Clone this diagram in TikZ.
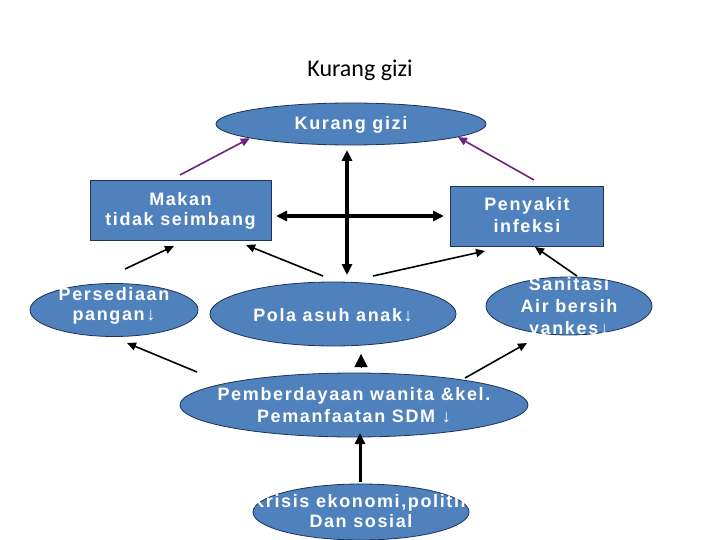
\documentclass[tikz,border=0pt]{standalone}
\usepackage{fontspec}
\newfontfamily\titlefont{Carlito}
\newfontfamily\nodefont{Liberation Sans}[LetterSpace=9]
\usetikzlibrary{arrows.meta,shapes.geometric}
\definecolor{nodeblue}{RGB}{79,129,189}
\definecolor{nodeedge}{RGB}{30,50,90}
\definecolor{arrowpurple}{RGB}{112,32,128}
\begin{document}
\begin{tikzpicture}[x=1pt,y=-1pt,
  ovalshape/.style={ellipse, draw=nodeedge, line width=0.8pt, fill=nodeblue, inner sep=0pt},
  boxshape/.style={rectangle, draw=nodeedge, line width=0.8pt, fill=nodeblue, inner sep=0pt},
  nodetext/.style={text=white, align=center, inner sep=0pt,
    font=\nodefont\bfseries\fontsize{18}{#1}\selectfont},
  nodetext/.default=22.5,
  thinarrow/.style={-{Triangle[length=9pt,width=8pt]}, line width=1.6pt},
  purplearrow/.style={-{Triangle[length=9pt,width=8pt]}, line width=1.6pt, draw=arrowpurple},
  crossarrow/.style={{Triangle[length=11pt,width=10pt]}-{Triangle[length=11pt,width=10pt]}, line width=3.5pt},
  thickarrow/.style={-{Triangle[length=11pt,width=10pt]}, line width=3pt}
]
\useasboundingbox (0,0) rectangle (720,540);
\fill[white] (0,0) rectangle (720,540);

% title
\node[font=\titlefont\fontsize{24}{28}\selectfont] (title) at (360,70) {Kurang gizi};

% shapes
\node[ovalshape, minimum width=270pt, minimum height=42pt] (kg) at (351,124) {};
\node[boxshape, minimum width=181pt, minimum height=60pt] (mak) at (180.5,210) {};
\node[boxshape, minimum width=153pt, minimum height=60pt] (pen) at (526.5,216) {};
\node[ovalshape, minimum width=168pt, minimum height=53pt] (pers) at (114,310) {};
\node[ovalshape, minimum width=246pt, minimum height=64pt] (pola) at (333,314) {};
\node[ovalshape, minimum width=166pt, minimum height=58pt] (san) at (569,306) {};
\node[ovalshape, minimum width=348pt, minimum height=64pt] (pemb) at (354,405) {};
\node[ovalshape, minimum width=216pt, minimum height=56pt] (kris) at (361,512) {};

% texts
\node[nodetext] (kgt) at (351,125) {Kurang gizi};
\node[nodetext=19.3] (makt) at (180.5,211) {Makan\\tidak seimbang};
\node[nodetext=22.7] (pent) at (527,215) {Penyakit\\infeksi};
\node[nodetext=19.3] (perst) at (114,306) {Persediaan\\pangan↓};
\node[nodetext] (polat) at (333,315) {Pola asuh anak↓};
\node[nodetext=22] (sant) at (569,307.5) {Sanitasi\\Air bersih\\yankes↓};
\node[nodetext=22.4] (pembt) at (354,405) {Pemberdayaan wanita \&kel.\\Pemanfaatan SDM ↓};
\node[nodetext=20] (krist) at (361,511) {Krisis ekonomi,politik\\Dan sosial};

% connector end points
\coordinate (pu1) at (180,175);
\coordinate (pu2) at (534,180);
\coordinate (vt) at (347,150);
\coordinate (vb) at (347,275);
\coordinate (hl) at (276,216);
\coordinate (hr) at (444,216);
\coordinate (pm1) at (323,276);
\coordinate (pm2) at (246,245);
\coordinate (pp1) at (373,276);
\coordinate (pp2) at (485,251);
\coordinate (sm1) at (125,269);
\coordinate (sm2) at (174,246);
\coordinate (ep1) at (197,372);
\coordinate (ep2) at (127,343);
\coordinate (es1) at (465,378);
\coordinate (es2) at (527,343);
\coordinate (sp1) at (577,276);
\coordinate (sp2) at (535,247);
\coordinate (tr1) at (361,368);
\coordinate (tr2) at (361,354);
\coordinate (ke1) at (360,482);
\coordinate (ke2) at (360,433);

% connectors
\draw[purplearrow] (pu1) -- (kg.188);
\draw[purplearrow] (pu2) -- (kg.-7);
\draw[crossarrow] (vt) -- (vb);
\draw[crossarrow] (hl) -- (hr);
\draw[thinarrow] (pm1) -- (pm2);
\draw[thinarrow] (pp1) -- (pp2);
\draw[thinarrow] (sm1) -- (sm2);
\draw[thinarrow] (ep1) -- (ep2);
\draw[thinarrow] (es1) -- (es2);
\draw[thinarrow] (sp1) -- (sp2);
\draw[-{Triangle[length=13pt,width=13pt]}, line width=0.1pt] (tr1) -- (tr2);
\draw[thickarrow] (ke1) -- (ke2);
\end{tikzpicture}
\end{document}
